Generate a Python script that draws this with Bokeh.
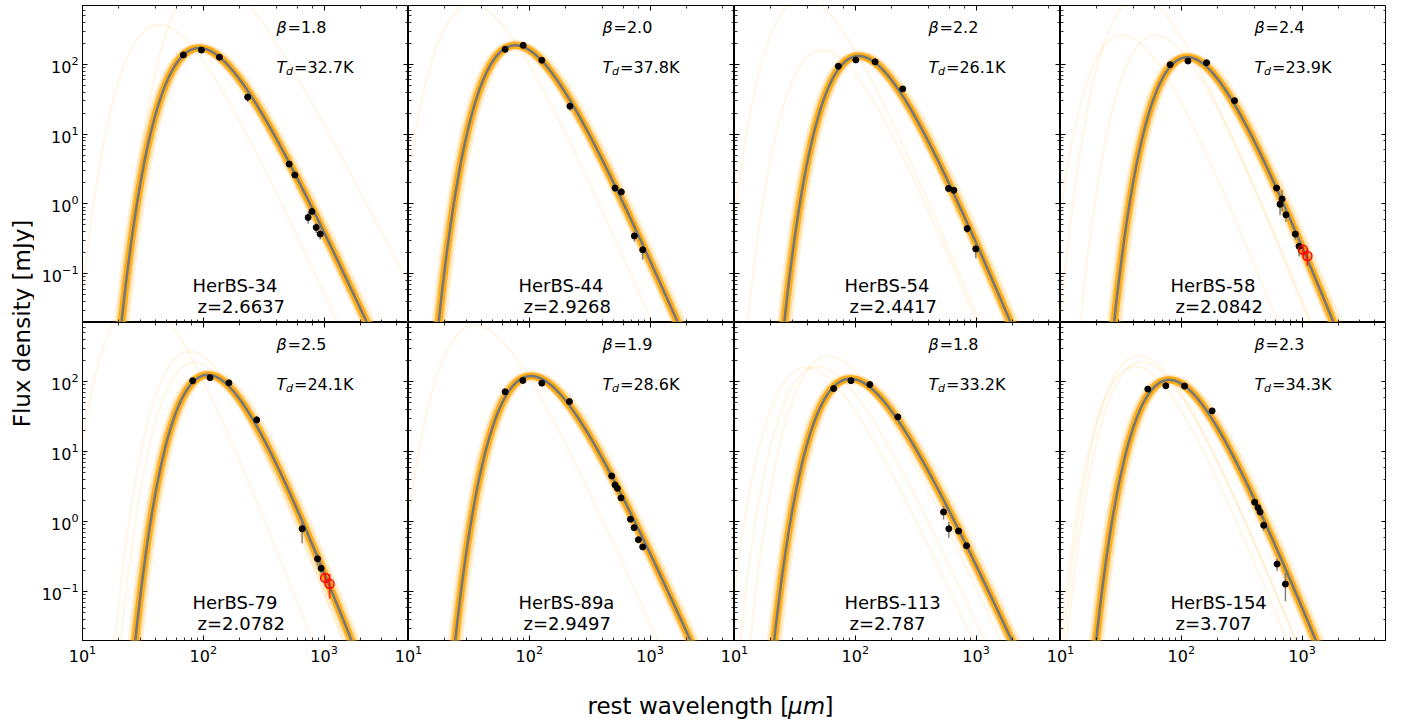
import numpy as np
from bokeh.plotting import figure
from bokeh.layouts import row, column
from bokeh.models import LogAxis, Label, Range1d, CustomJSTickFormatter
from bokeh.embed import file_html
from bokeh.resources import INLINE

# ---------------- data ----------------
names = ["HerBS-34", "HerBS-44", "HerBS-54", "HerBS-58",
         "HerBS-79", "HerBS-89a", "HerBS-113", "HerBS-154"]
redshifts = ["2.6637", "2.9268", "2.4417", "2.0842",
             "2.0782", "2.9497", "2.787", "3.707"]
betas = [1.8, 2.0, 2.2, 2.4, 2.5, 1.9, 1.8, 2.3]
temps = [32.7, 37.8, 26.1, 23.9, 24.1, 28.6, 33.2, 34.3]
peak_flux = [172, 188, 132, 127, 125, 120, 110, 106]

lam_34 = [68.4, 96.4, 136, 233, 514, 573, 793, 738, 861, 929]
flux_34 = [137, 161, 127, 34.0, 3.73, 2.60, 0.78, 0.64, 0.46, 0.37]
err_34 = [3, 3, 3, 5, 0.25, 0.2, 0.07, 0.12, 0.08, 0.06]

lam_44 = [63.1, 89, 127, 217, 513, 578, 741, 869]
flux_44 = [165, 188, 115, 25.2, 1.69, 1.49, 0.348, 0.22]
err_44 = [3, 3, 3, 3.5, 0.2, 0.2, 0.06, 0.06]

lam_54 = [72.4, 101, 146, 247, 591, 655, 844, 995]
flux_54 = [94.3, 116, 109, 44.6, 1.67, 1.57, 0.444, 0.227]
err_54 = [2, 2, 2, 3, 0.2, 0.15, 0.06, 0.06]

lam_58 = [80.9, 113.5, 162, 276, 615, 683, 657, 736, 879, 944]
flux_58 = [99.4, 112, 106, 30.3, 1.69, 1.18, 0.99, 0.70, 0.37, 0.247]
err_58 = [2, 2, 2, 3, 0.15, 0.4, 0.3, 0.15, 0.06, 0.07]
lam_58_red = [1019, 1107]
flux_58_red = [0.22, 0.18]
err_58_red = [0.03, 0.05]

lam_79 = [81.7, 113.7, 163, 277, 658, 883, 946]
flux_79 = [103, 114, 96.1, 28.4, 0.79, 0.294, 0.215]
err_79 = [2, 2, 2, 4, 0.3, 0.06, 0.03]
lam_79_red = [1021, 1111]
flux_79_red = [0.157, 0.129]
err_79_red = [0.02, 0.05]

lam_89a = [63.1, 88.5, 127, 215, 481, 513, 536, 575, 688, 737, 800, 869]
flux_89a = [71.5, 104, 95.2, 51.9, 4.49, 3.34, 2.99, 2.18, 1.08, 0.818, 0.551, 0.434]
err_89a = [1.5, 2, 2, 2, 0.2, 0.15, 0.1, 0.1, 0.05, 0.04, 0.03, 0.03]

lam_113 = [66.2, 92.1, 132, 225, 538, 595, 716, 834]
flux_113 = [79.6, 103, 90.9, 31.3, 1.37, 0.79, 0.733, 0.452]
err_113 = [2, 2, 2, 4, 0.3, 0.2, 0.05, 0.04]

lam_154 = [52.8, 74.5, 106.4, 180, 405, 432, 449, 481, 621, 728]
flux_154 = [78.2, 87.1, 86.3, 38.2, 1.89, 1.58, 1.37, 0.885, 0.247, 0.128]
err_154 = [2, 2, 2, 2, 0.1, 0.1, 0.1, 0.15, 0.05, 0.055]

# faint outlying posterior samples: (T, beta, peak flux)
faint_34 = [(70, 1.8, 370), (30, 1.4, 1800)]
faint_44 = [(87, 2.0, 720)]
faint_54 = [(52, 2.2, 161), (75, 2.2, 900)]
faint_58 = [(82, 2.4, 264), (43.5, 2.4, 264), (60, 2.4, 900)]
faint_79 = [(34, 2.5, 270), (31, 2.5, 190), (90, 2.5, 1500)]
faint_89a = [(83, 1.9, 640)]
faint_113 = [(50, 1.8, 230), (77, 1.8, 160), (62, 1.8, 165)]
faint_154 = [(61, 2.3, 236), (58, 2.3, 190), (66, 2.3, 165)]

# posterior band: temperature scale factors of the drawn samples
band_T_factors = [0.88, 0.92, 0.95, 0.975, 1.025, 1.05, 1.08, 1.12]

points = [(lam_34, flux_34, err_34), (lam_44, flux_44, err_44),
          (lam_54, flux_54, err_54), (lam_58, flux_58, err_58),
          (lam_79, flux_79, err_79), (lam_89a, flux_89a, err_89a),
          (lam_113, flux_113, err_113), (lam_154, flux_154, err_154)]
red_points = {3: (lam_58_red, flux_58_red, err_58_red),
              4: (lam_79_red, flux_79_red, err_79_red)}
faints = [faint_34, faint_44, faint_54, faint_58, faint_79, faint_89a, faint_113, faint_154]

# ---------------- model: optically thin modified black body ----------------
lam_grid = np.logspace(1, np.log10(5000), 500)


def mbb_shape(T, beta):
    x = 14387.77 / (lam_grid * T)
    return lam_grid ** (-(3.0 + beta)) / np.expm1(x)


def visible(y):
    m = y > 1e-3
    return lam_grid[m], y[m]


FONT = "DejaVu Sans"
frame_ws = [326, 326, 326, 326]
frame_hs = [317, 318]
TOP_B = 5
LEFT_B = 48
BOT_B = 24
YLAB_W = 34
OVER = 16   # overlap so that the shared "10^1" labels sit on the panel boundary


def style_axis(ax, show):
    ax.major_tick_in = 5
    ax.major_tick_out = 0
    ax.minor_tick_in = 3
    ax.minor_tick_out = 0
    ax.axis_line_color = None
    ax.major_tick_line_color = "black"
    ax.minor_tick_line_color = "black"
    ax.major_tick_line_width = 1
    ax.minor_tick_line_width = 0.8
    if show:
        ax.major_label_text_font = FONT
        ax.major_label_text_font_size = "16px"
        ax.major_label_text_color = "black"
        ax.major_label_standoff = 4
    else:
        ax.formatter = CustomJSTickFormatter(code="return ''")
        ax.major_label_text_font_size = "1px"
        ax.major_label_standoff = 0


def make_panel(i):
    col = i % 4
    r = i // 4
    fw, fh = frame_ws[col], frame_hs[r]
    if col == 0:
        mbl = LEFT_B
    elif r == 1:
        mbl = OVER
    else:
        mbl = 0
    kw = {}
    if r == 1 and col > 0:
        kw["styles"] = {"margin-left": "-%dpx" % OVER}
    p = figure(x_axis_type="log", y_axis_type="log",
               x_range=Range1d(10, 5000), y_range=Range1d(0.02, 700),
               frame_width=fw, frame_height=fh,
               output_backend="svg", toolbar_location=None,
               min_border_left=mbl,
               min_border_right=0, min_border_top=TOP_B if r == 0 else 0,
               min_border_bottom=BOT_B if r == 1 else 0, **kw)
    p.grid.visible = False
    p.outline_line_color = "black"
    p.outline_line_width = 1
    p.background_fill_color = "white"
    p.border_fill_color = "white"
    p.border_fill_alpha = 0.0
    style_axis(p.xaxis[0], r == 1)
    style_axis(p.yaxis[0], col == 0)
    top_ax = LogAxis()
    right_ax = LogAxis()
    style_axis(top_ax, False)
    style_axis(right_ax, False)
    p.add_layout(top_ax, "above")
    p.add_layout(right_ax, "right")

    T, b, pk = temps[i], betas[i], peak_flux[i]
    best = mbb_shape(T, b)
    best = best / best.max() * pk
    k = int(np.argmax(best))

    # faint outlying samples
    for (Tf, bf, pf) in faints[i]:
        s = mbb_shape(Tf, bf)
        s = s / s.max() * pf
        xx, yy = visible(s)
        p.line(xx, yy, line_color="#ffa500", line_alpha=0.10, line_width=2)

    # posterior band
    xx, yy = visible(best)
    p.line(xx, yy, line_color="#ffcc80", line_alpha=0.35, line_width=11)
    for f in band_T_factors:
        s = mbb_shape(T * f, b)
        s = s * best[k] / s[k]
        xs, ys = visible(s)
        p.line(xs, ys, line_color="#ffa500", line_alpha=0.16, line_width=3)
    p.line(xx, yy, line_color="#ffa500", line_alpha=0.85, line_width=7.5)
    # best fit
    p.line(xx, yy, line_color="#72777c", line_width=2.5)

    lam, fl, er = points[i]
    lam = np.array(lam, float); fl = np.array(fl, float); er = np.array(er, float)
    p.segment(x0=lam, x1=lam, y0=fl - er, y1=fl + er, line_color="#808080", line_width=1.5)
    p.scatter(lam, fl, size=6, color="black")
    if i in red_points:
        rl, rf, re = (np.array(a, float) for a in red_points[i])
        p.segment(x0=rl, x1=rl, y0=rf - re, y1=rf + re, line_color="red", line_width=1.5, line_alpha=0.8)
        p.scatter(rl, rf, size=9, marker="circle", line_color="red", fill_color="red",
                  fill_alpha=0.15, line_width=1.5)

    def lab(x, ytop, text, size, style="normal"):
        p.add_layout(Label(x=x, y=fh - ytop, x_units="screen", y_units="screen", text=text,
                           text_font=FONT, text_font_size=size, text_font_style=style,
                           text_color="black", text_align="left", text_baseline="alphabetic"))

    lab(110, 280.0, names[i], "18px")
    lab(115, 300.5, "z=" + redshifts[i], "18px")
    lab(194, 21.7, "β", "16px", "italic")
    lab(205, 21.7, "=%.1f" % b, "16px")
    lab(194, 61.7, "T", "16px", "italic")
    lab(203.5, 66.0, "d", "11px", "italic")
    lab(211.5, 61.7, "=%.1fK" % T, "16px")
    return p


panels = [make_panel(i) for i in range(8)]

grid_h = TOP_B + frame_hs[0] + frame_hs[1] + BOT_B + 2
ylab = figure(width=YLAB_W, height=grid_h, output_backend="svg", toolbar_location=None,
              x_axis_location=None, y_axis_location=None, min_border=0)
ylab.grid.visible = False
ylab.outline_line_color = None
ylab.add_layout(Label(x=21, y=grid_h - 323, x_units="screen", y_units="screen",
                      text="Flux density [mJy]", angle=np.pi / 2, text_font=FONT,
                      text_font_size="23px", text_align="center", text_baseline="middle",
                      text_color="black"))

total_w = YLAB_W + LEFT_B + sum(frame_ws) + 6
XLAB_H = 720 - grid_h
xlab = figure(width=total_w, height=XLAB_H, output_backend="svg", toolbar_location=None,
              x_axis_location=None, y_axis_location=None, min_border=0)
xlab.grid.visible = False
xlab.outline_line_color = None
base_y = XLAB_H - (705 - grid_h)
for xpos, txt, sty in [(587, "rest wavelength [", "normal"), (787.5, "μm", "italic"), (824, "]", "normal")]:
    xlab.add_layout(Label(x=xpos, y=base_y, x_units="screen", y_units="screen",
                          text=txt, text_font=FONT, text_font_size="23px", text_font_style=sty,
                          text_align="left", text_baseline="alphabetic", text_color="black"))

layout = column(row(ylab, column(row(*panels[:4]), row(*panels[4:]))), xlab)

open("out.html", "w").write(file_html(layout, INLINE))
